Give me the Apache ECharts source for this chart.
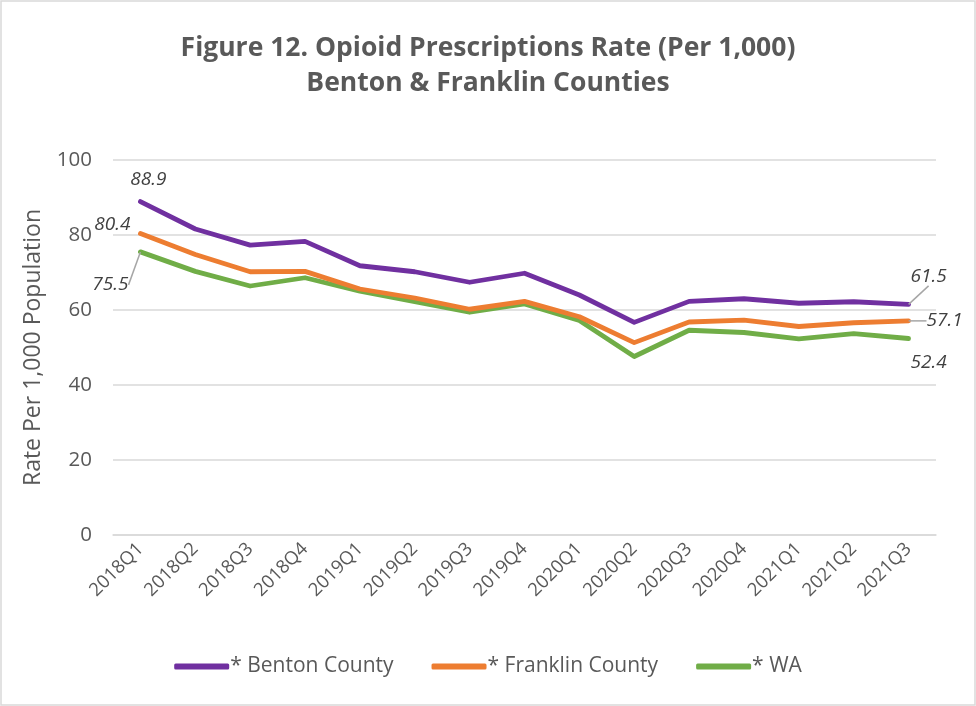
<!DOCTYPE html>
<html>
<head>
<meta charset="utf-8">
<script src="https://cdn.jsdelivr.net/npm/echarts@6/dist/echarts.min.js"></script>
<style>
html,body{margin:0;padding:0;background:#fff;}
#chart{width:976px;height:706px;}
</style>
</head>
<body>
<div id="chart"></div>
<script>
var quarters = ['2018Q1','2018Q2','2018Q3','2018Q4','2019Q1','2019Q2','2019Q3','2019Q4','2020Q1','2020Q2','2020Q3','2020Q4','2021Q1','2021Q2','2021Q3'];
var benton = [88.9, 81.6, 77.3, 78.3, 71.8, 70.2, 67.4, 69.8, 64.0, 56.7, 62.3, 63.0, 61.8, 62.2, 61.5];
var franklin = [80.4, 74.8, 70.2, 70.3, 65.6, 63.2, 60.2, 62.3, 58.2, 51.3, 56.8, 57.3, 55.6, 56.6, 57.1];
var wa = [75.5, 70.3, 66.4, 68.6, 65.0, 62.2, 59.4, 61.6, 57.2, 47.6, 54.6, 54.0, 52.3, 53.7, 52.4];
var yTicks = [0, 20, 40, 60, 80, 100];

// label offsets [dx, dy, leader line?] for first/last points
var labelOffsets = {
    benton:   {0: [8, -22, false], 14: [20, -28, true]},
    franklin: {0: [-28, -9, false], 14: [36, 0, true]},
    wa:       {0: [-30, 33, true], 14: [20, 24, false]}
};

var chart = echarts.init(document.getElementById('chart'));
var last = quarters.length - 1;

function makeData(arr, key){
    return arr.map(function(v, i){
        if(i === 0 || i === last){
            return {value: v, label: {show: true}, labelLine: {show: labelOffsets[key][i][2]}};
        }
        return v;
    });
}

function makeSeries(name, key, arr, color){
    return {
        name: name,
        type: 'line',
        data: makeData(arr, key),
        symbol: 'circle',
        symbolSize: 0.1,
        showSymbol: true,
        lineStyle: {width: 4.8, color: color, cap: 'round', join: 'round'},
        itemStyle: {color: color},
        label: {
            show: false,
            position: 'inside',
            formatter: function(p){ return Number(p.value).toFixed(1); },
            fontFamily: 'Open Sans',
            fontStyle: 'italic',
            fontSize: 19,
            color: '#404040'
        },
        labelLine: {show: false, lineStyle: {color: '#a6a6a6', width: 1.5}},
        labelLayout: function(p){
            var o = labelOffsets[key][p.dataIndex] || [0, 0];
            return {dx: o[0], dy: o[1]};
        },
        z: key === 'benton' ? 4 : (key === 'franklin' ? 3 : 2)
    };
}

var option = {
    backgroundColor: '#fff',
    animation: false,
    title: {
        text: 'Figure 12. Opioid Prescriptions Rate (Per 1,000)\nBenton & Franklin Counties',
        left: 'center',
        top: 26,
        textStyle: {
            fontFamily: 'Open Sans',
            fontWeight: 'bold',
            fontSize: 26.5,
            lineHeight: 35,
            color: '#595959'
        }
    },
    color: ['#7030A0', '#ED7D31', '#70AD47'],
    legend: {
        bottom: 24,
        left: 'center',
        itemWidth: 55,
        itemHeight: 6,
        itemGap: 38,
        icon: 'roundRect',
        textStyle: {fontFamily: 'Open Sans', fontSize: 21, color: '#595959', padding: [0, 0, 0, -4]},
        data: ['* Benton County', '* Franklin County', '* WA']
    },
    grid: {left: 113, right: 40, top: 160, bottom: 171},
    xAxis: {
        type: 'category',
        data: quarters,
        boundaryGap: true,
        axisLine: {show: true, lineStyle: {color: '#d9d9d9', width: 1.5}},
        axisTick: {show: false},
        axisLabel: {
            rotate: 45,
            interval: 0,
            fontFamily: 'Open Sans',
            fontSize: 18.5,
            color: '#595959',
            margin: 11
        }
    },
    yAxis: {
        type: 'value',
        min: yTicks[0],
        max: yTicks[yTicks.length - 1],
        interval: 20,
        name: 'Rate Per 1,000 Population',
        nameLocation: 'middle',
        nameGap: 68,
        nameTextStyle: {fontFamily: 'Open Sans', fontSize: 23, color: '#595959'},
        axisLine: {show: false},
        axisTick: {show: false},
        axisLabel: {fontFamily: 'Open Sans', fontSize: 20.5, color: '#595959', margin: 21},
        splitLine: {lineStyle: {color: '#d9d9d9', width: 1.5}}
    },
    graphic: [{
        type: 'rect',
        shape: {x: 1, y: 1, width: 974, height: 704},
        style: {fill: 'none', stroke: '#d9d9d9', lineWidth: 1.5},
        silent: true
    }],
    series: [
        makeSeries('* Benton County', 'benton', benton, '#7030A0'),
        makeSeries('* Franklin County', 'franklin', franklin, '#ED7D31'),
        makeSeries('* WA', 'wa', wa, '#70AD47')
    ]
};

chart.setOption(option);
window.addEventListener('resize', function(){ chart.resize(); });
</script>
</body>
</html>
